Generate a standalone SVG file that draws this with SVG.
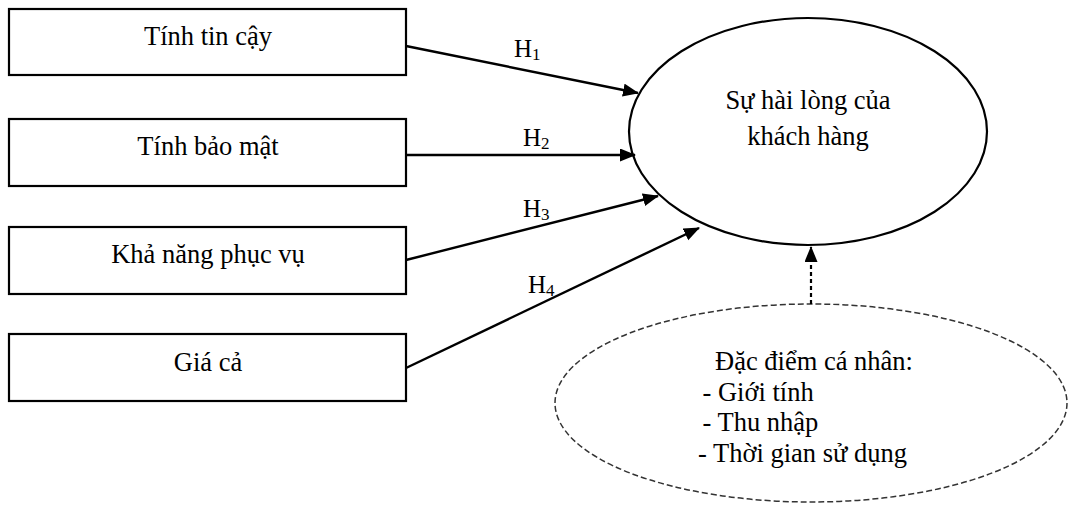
<svg xmlns="http://www.w3.org/2000/svg" width="1068" height="514" viewBox="0 0 1068 514">
<style>
  .box { fill: #fff; stroke: #000; stroke-width: 2.2; }
  .t { font-family: "Liberation Serif", "Times New Roman", serif; font-size: 26.5px; fill: #000; }
  .h { font-family: "Liberation Serif", "Times New Roman", serif; font-size: 25px; fill: #000; }
  .sub { font-size: 17px; }
  .conn { stroke: #000; stroke-width: 2.4; fill: none; }
  .dash { stroke: #000; stroke-width: 2.2; fill: none; stroke-dasharray: 4 3; }
</style>
<defs>
  <marker id="arr" markerUnits="userSpaceOnUse" markerWidth="18" markerHeight="14" refX="15" refY="6.5" orient="auto">
    <path d="M0,0 L16,6.5 L0,13 z" fill="#000"/>
  </marker>
</defs>
<rect width="1068" height="514" fill="#fff"/>

<g id="node-tin-cay">
  <rect class="box" x="9" y="9" width="397" height="66"/>
  <text class="t" x="208" y="45" text-anchor="middle">Tính tin cậy</text>
</g>
<g id="node-bao-mat">
  <rect class="box" x="9" y="119" width="397" height="67"/>
  <text class="t" x="208" y="155" text-anchor="middle">Tính bảo mật</text>
</g>
<g id="node-phuc-vu">
  <rect class="box" x="9" y="227" width="397" height="67"/>
  <text class="t" x="208" y="263" text-anchor="middle">Khả năng phục vụ</text>
</g>
<g id="node-gia-ca">
  <rect class="box" x="9" y="334" width="397" height="67"/>
  <text class="t" x="208" y="371" text-anchor="middle">Giá cả</text>
</g>

<g id="node-hai-long">
  <ellipse cx="808" cy="131.5" rx="179" ry="113.5" fill="#fff" stroke="#000" stroke-width="2.2"/>
  <text class="t" x="808" y="109" text-anchor="middle">Sự hài lòng của</text>
  <text class="t" x="808" y="145" text-anchor="middle">khách hàng</text>
</g>

<g id="node-dac-diem">
  <ellipse cx="811" cy="403" rx="256" ry="99" fill="#fff" stroke="#333" stroke-width="1.5" stroke-dasharray="6 3"/>
  <text class="t" x="715" y="370">Đặc điểm cá nhân:</text>
  <text class="t" x="702.5" y="400.5">- Giới tính</text>
  <text class="t" x="702.5" y="431">- Thu nhập</text>
  <text class="t" x="698" y="461.5">- Thời gian sử dụng</text>
</g>

<g id="connectors">
  <line class="conn" x1="406" y1="46" x2="638" y2="93" marker-end="url(#arr)"/>
  <line class="conn" x1="406" y1="155" x2="635" y2="155" marker-end="url(#arr)"/>
  <line class="conn" x1="406" y1="260" x2="658" y2="196" marker-end="url(#arr)"/>
  <line class="conn" x1="406" y1="368" x2="699" y2="228" marker-end="url(#arr)"/>
  <line class="dash" x1="811" y1="304" x2="811" y2="247" marker-end="url(#arr)"/>
  <text class="h" x="514" y="57">H<tspan class="sub" dy="3">1</tspan></text>
  <text class="h" x="523" y="146">H<tspan class="sub" dy="3">2</tspan></text>
  <text class="h" x="523" y="217">H<tspan class="sub" dy="3">3</tspan></text>
  <text class="h" x="528" y="293">H<tspan class="sub" dy="3">4</tspan></text>
</g>
</svg>
